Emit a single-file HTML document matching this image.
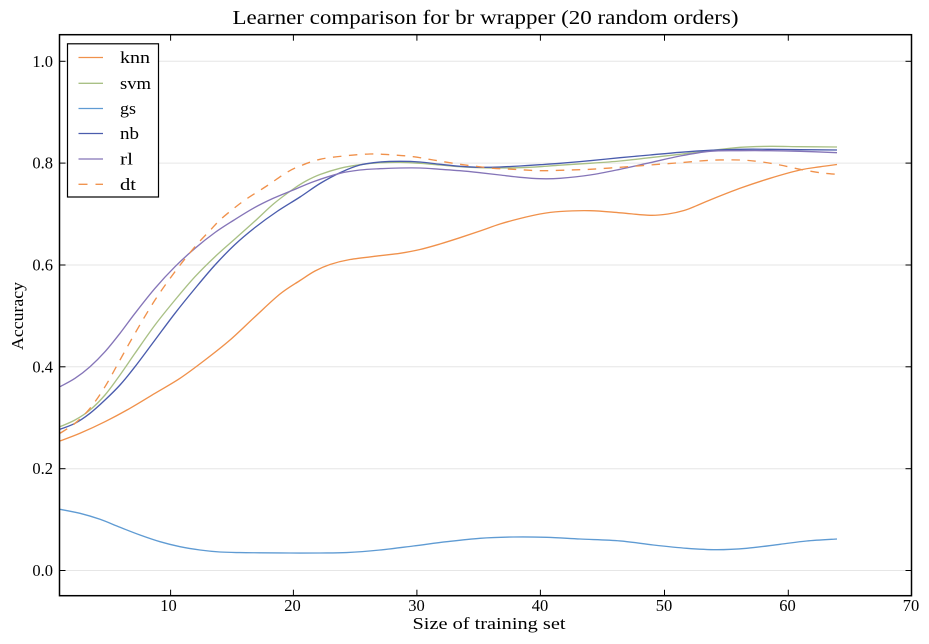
<!DOCTYPE html>
<html>
<head>
<meta charset="utf-8">
<style>
  html, body { margin: 0; padding: 0; background: #ffffff; }
  svg { display: block; }
  text { font-family: "Liberation Serif", "DejaVu Serif", serif; fill: #000; }
</style>
</head>
<body>
<svg id="chart" width="929" height="644" viewBox="0 0 929 644" xmlns="http://www.w3.org/2000/svg">
  <rect x="0" y="0" width="929" height="644" fill="#ffffff"/>

  <!-- grid -->
  <g stroke="#e6e6e6" stroke-width="1">
    <line x1="59.5" y1="570.5" x2="911.5" y2="570.5"/>
    <line x1="59.5" y1="468.7" x2="911.5" y2="468.7"/>
    <line x1="59.5" y1="366.8" x2="911.5" y2="366.8"/>
    <line x1="59.5" y1="265" x2="911.5" y2="265"/>
    <line x1="59.5" y1="163.1" x2="911.5" y2="163.1"/>
    <line x1="59.5" y1="61.3" x2="911.5" y2="61.3"/>
  </g>

  <!-- series -->
  <g fill="none" stroke-width="1.35" stroke-linejoin="round" stroke-linecap="butt">
    <!-- gs -->
    <polyline class="s" stroke="#5f9bd3" points="60,509.3 80,513.3 100,519.3 120,527.3 140,535 160,541.7 180,546.7 200,550 220,552 240,552.6 260,552.8 290,553 320,553 346.7,552.6 380,550 413.3,546 446.7,541.7 480,538.3 513.3,537 546.7,537.3 580,539 620,540.9 653.3,545 686.7,548.3 716.7,549.7 746.7,548.3 780,544.3 806.7,541 837,539"/>
    <!-- knn -->
    <polyline class="s" stroke="#f0914b" points="60,441 80,433.3 105,421.7 130,408.3 155,393.3 180,378.3 205,360 230,340 255,316.7 280,294 300,280.5 315,271 330,264.5 350,259.5 380,255.7 400,253.3 420,249.5 440,244 460,237.7 480,231 500,224 520,218.5 540,214 560,211.5 590,210.7 620,212.8 650,215.3 668,214 684,210.5 697,205.5 710,200 740,188.3 770,178.3 800,170 820,166.8 837,164.5"/>
    <!-- svm -->
    <polyline class="s" stroke="#a9c085" points="60,426.7 75,420 90,410 105,395 120,375 135,353.3 155,325 175,300 195,276.7 215,256.7 236,238 255,221 274,203.5 293.3,189 306,181 320,174.5 340,168.3 360,164.7 380,162.7 400,162.3 420,163.3 440,165 460,166.7 480,167.7 500,168 520,167.7 540,166.7 560,165.2 590,163.3 620,161 650,157.7 680,154.3 710,150.7 740,147.3 770,146.3 800,146.7 837,147"/>
    <!-- nb -->
    <polyline class="s" stroke="#4a5cad" points="60,429.3 75,423.3 90,413.3 105,400 120,385 135,366.7 155,340 175,313.3 195,288.5 215,265 235,244.5 255,227.5 277,211.5 300,197 320,183.5 340,172.7 360,165 380,162 400,161.3 420,162 440,164.3 460,166.3 480,167.3 500,167 520,166 540,164.7 560,163.3 590,160.7 620,157.7 650,155 680,152.3 710,150.3 740,149.3 770,149.3 800,149.7 837,150"/>
    <!-- rl -->
    <polyline class="s" stroke="#8575b8" points="60,386.7 75,378.3 90,366.7 105,351.7 120,333.3 135,313.3 155,288.3 175,266.7 195,248.3 215,232.5 233.3,220.5 253.3,208.3 273.3,198.3 293.3,190 313.3,181.7 340,173.3 360,170 380,168.7 400,168 420,168 440,169.3 460,170.7 480,172.7 500,175 520,177.3 540,178.7 560,178.3 590,175 620,169.3 650,162.7 680,156 710,151.3 740,150.7 770,150.7 800,151.3 837,152.7"/>
    <!-- dt -->
    <polyline class="s" stroke="#f0914b" stroke-dasharray="8.5,7.5" points="60,433.3 75,423.3 90,408.3 105,386.7 120,360 135,333.3 155,300 175,271.7 195,246.7 210,230.5 220,220 233.3,208.8 246.7,198.8 266.7,186 286.7,172.5 300,166 320,159.3 346.7,155.7 370,154 390,154.7 413.3,156.7 433.3,160 453.3,163.3 473.3,166 493.3,168.3 513.3,169.3 540,170.7 570,170 590,169.3 620,167.3 650,165 680,162.7 710,160.3 740,160 760,161.7 780,165 800,169.3 820,172.7 837,174.3"/>
  </g>

  <!-- axes frame -->
  <rect x="59.5" y="34.7" width="852" height="561" fill="none" stroke="#000" stroke-width="1.5"/>

  <!-- ticks -->
  <g stroke="#000" stroke-width="1">
    <line x1="170.6" y1="595.7" x2="170.6" y2="589.7"/><line x1="170.6" y1="34.7" x2="170.6" y2="40.7"/>
    <line x1="293.4" y1="595.7" x2="293.4" y2="589.7"/><line x1="293.4" y1="34.7" x2="293.4" y2="40.7"/>
    <line x1="416.9" y1="595.7" x2="416.9" y2="589.7"/><line x1="416.9" y1="34.7" x2="416.9" y2="40.7"/>
    <line x1="540.4" y1="595.7" x2="540.4" y2="589.7"/><line x1="540.4" y1="34.7" x2="540.4" y2="40.7"/>
    <line x1="664.5" y1="595.7" x2="664.5" y2="589.7"/><line x1="664.5" y1="34.7" x2="664.5" y2="40.7"/>
    <line x1="788.3" y1="595.7" x2="788.3" y2="589.7"/><line x1="788.3" y1="34.7" x2="788.3" y2="40.7"/>
    <line x1="59.5" y1="570.5" x2="65.5" y2="570.5"/><line x1="911.5" y1="570.5" x2="905.5" y2="570.5"/>
    <line x1="59.5" y1="468.7" x2="65.5" y2="468.7"/><line x1="911.5" y1="468.7" x2="905.5" y2="468.7"/>
    <line x1="59.5" y1="366.8" x2="65.5" y2="366.8"/><line x1="911.5" y1="366.8" x2="905.5" y2="366.8"/>
    <line x1="59.5" y1="265" x2="65.5" y2="265"/><line x1="911.5" y1="265" x2="905.5" y2="265"/>
    <line x1="59.5" y1="163.1" x2="65.5" y2="163.1"/><line x1="911.5" y1="163.1" x2="905.5" y2="163.1"/>
    <line x1="59.5" y1="61.3" x2="65.5" y2="61.3"/><line x1="911.5" y1="61.3" x2="905.5" y2="61.3"/>
  </g>

  <!-- x tick labels -->
  <g font-size="16.5" text-anchor="middle">
    <text x="168.5" y="611">10</text>
    <text x="292.5" y="611">20</text>
    <text x="416.5" y="611">30</text>
    <text x="540" y="611">40</text>
    <text x="664" y="611">50</text>
    <text x="787.5" y="611">60</text>
    <text x="911" y="611">70</text>
  </g>
  <!-- y tick labels -->
  <g font-size="16.5" text-anchor="end">
    <text x="53" y="576">0.0</text>
    <text x="53" y="474.2">0.2</text>
    <text x="53" y="372.3">0.4</text>
    <text x="53" y="270.5">0.6</text>
    <text x="53" y="168.6">0.8</text>
    <text x="53" y="66.8">1.0</text>
  </g>

  <!-- title -->
  <text x="485.5" y="24" font-size="20" text-anchor="middle" textLength="506" lengthAdjust="spacingAndGlyphs">Learner comparison for br wrapper (20 random orders)</text>
  <!-- axis labels -->
  <text x="489" y="629" font-size="16.5" text-anchor="middle" textLength="153" lengthAdjust="spacingAndGlyphs">Size of training set</text>
  <text transform="translate(23,316) rotate(-90)" font-size="16.5" text-anchor="middle" textLength="68" lengthAdjust="spacingAndGlyphs">Accuracy</text>

  <!-- legend -->
  <rect x="67.5" y="43.8" width="91" height="153.2" fill="#ffffff" stroke="#000" stroke-width="1.2"/>
  <g stroke-width="1.35">
    <line x1="78.5" y1="57.5" x2="103" y2="57.5" stroke="#f0914b"/>
    <line x1="78.5" y1="83.3" x2="103" y2="83.3" stroke="#a9c085"/>
    <line x1="78.5" y1="108.5" x2="103" y2="108.5" stroke="#5f9bd3"/>
    <line x1="78.5" y1="133.5" x2="103" y2="133.5" stroke="#4a5cad"/>
    <line x1="78.5" y1="159" x2="103" y2="159" stroke="#8575b8"/>
    <line x1="78.5" y1="184.3" x2="87.5" y2="184.3" stroke="#f0914b"/>
    <line x1="95.5" y1="184.3" x2="103" y2="184.3" stroke="#f0914b"/>
  </g>
  <g font-size="17">
    <text x="120" y="63" textLength="30" lengthAdjust="spacingAndGlyphs">knn</text>
    <text x="120" y="88.8" textLength="31" lengthAdjust="spacingAndGlyphs">svm</text>
    <text x="120" y="114" textLength="16" lengthAdjust="spacingAndGlyphs">gs</text>
    <text x="120" y="139" textLength="19" lengthAdjust="spacingAndGlyphs">nb</text>
    <text x="120" y="164.5" textLength="13" lengthAdjust="spacingAndGlyphs">rl</text>
    <text x="120" y="189.8" textLength="16" lengthAdjust="spacingAndGlyphs">dt</text>
  </g>
</svg>
<script>
(function(){
  var svg = document.getElementById('chart');
  var pls = svg.querySelectorAll('polyline.s');
  for (var i = 0; i < pls.length; i++) {
    var pl = pls[i];
    var raw = pl.getAttribute('points').trim().split(/\s+/);
    var p = raw.map(function(s){ var a = s.split(','); return [parseFloat(a[0]), parseFloat(a[1])]; });
    if (p.length < 3) continue;
    var d = 'M' + p[0][0] + ',' + p[0][1];
    for (var k = 0; k < p.length - 1; k++) {
      var p0 = p[k === 0 ? 0 : k - 1], p1 = p[k], p2 = p[k + 1], p3 = p[k + 2 < p.length ? k + 2 : k + 1];
      var c1x = p1[0] + (p2[0] - p0[0]) / 6, c1y = p1[1] + (p2[1] - p0[1]) / 6;
      var c2x = p2[0] - (p3[0] - p1[0]) / 6, c2y = p2[1] - (p3[1] - p1[1]) / 6;
      d += ' C' + c1x.toFixed(2) + ',' + c1y.toFixed(2) + ' ' + c2x.toFixed(2) + ',' + c2y.toFixed(2) + ' ' + p2[0] + ',' + p2[1];
    }
    var path = document.createElementNS('http://www.w3.org/2000/svg', 'path');
    path.setAttribute('d', d);
    path.setAttribute('stroke', pl.getAttribute('stroke'));
    if (pl.getAttribute('stroke-dasharray')) path.setAttribute('stroke-dasharray', pl.getAttribute('stroke-dasharray'));
    path.setAttribute('fill', 'none');
    pl.parentNode.replaceChild(path, pl);
  }
})();
</script>
</body>
</html>
